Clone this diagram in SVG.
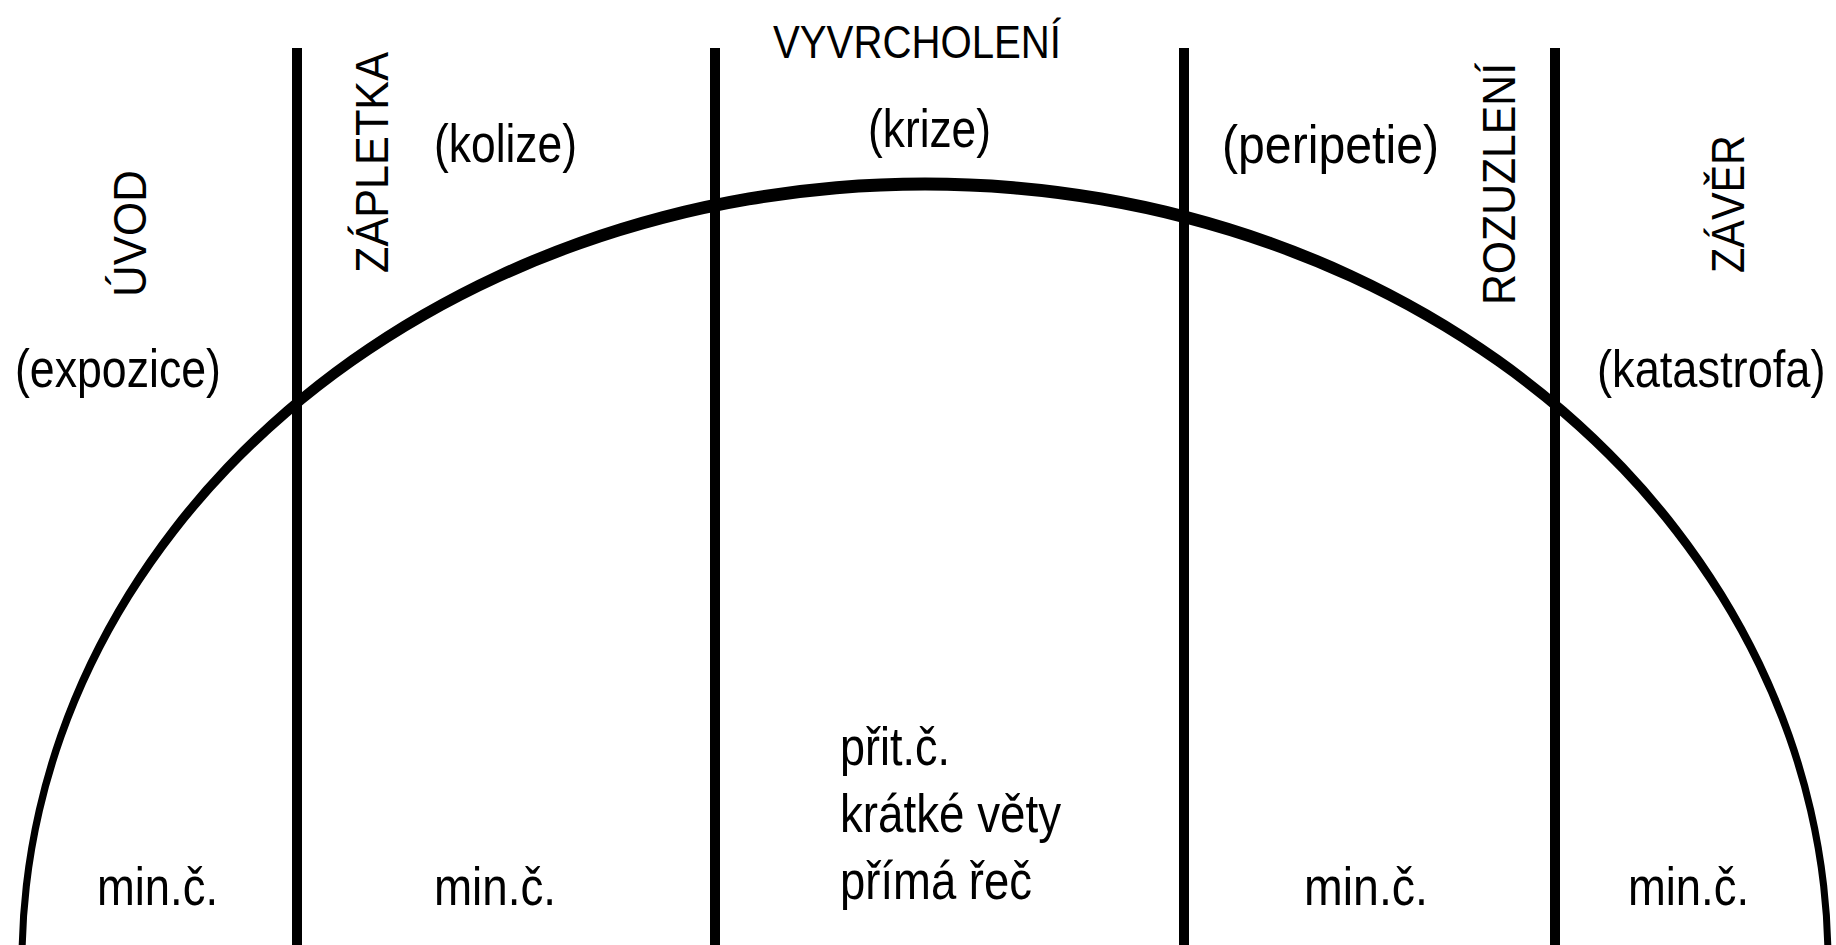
<svg xmlns="http://www.w3.org/2000/svg" width="1836" height="945" viewBox="0 0 1836 945">
<style>
text{font-family:"Liberation Sans",Arial,sans-serif;fill:#000}
.lc{font-size:53px}
.cap{font-size:46px}
.div{stroke:#000;stroke-width:10;fill:none}
</style>
<rect width="1836" height="945" fill="#fff"/>
<g id="curve">
<path fill="#000" fill-rule="evenodd" d="M18.5,962 A906.5,784.5 0 0 1 1831.5,962 Z M25.5,962 A899.5,771.5 0 0 1 1824.5,962 Z"/>
</g>
<g id="connectors">
<line class="div" x1="297" y1="48" x2="297" y2="945"/>
<line class="div" x1="715" y1="48" x2="715" y2="945"/>
<line class="div" x1="1184" y1="48" x2="1184" y2="945"/>
<line class="div" x1="1555" y1="48" x2="1555" y2="945"/>
</g>
<g id="uvod">
<text class="cap" transform="translate(146,297) rotate(-90)" textLength="127" lengthAdjust="spacingAndGlyphs">ÚVOD</text>
<text class="lc" x="15" y="387" textLength="206" lengthAdjust="spacingAndGlyphs">(expozice)</text>
<text class="lc" x="97" y="905" textLength="121" lengthAdjust="spacingAndGlyphs">min.č.</text>
</g>
<g id="zapletka">
<text class="cap" transform="translate(388,273) rotate(-90)" textLength="221" lengthAdjust="spacingAndGlyphs">ZÁPLETKA</text>
<text class="lc" x="434" y="162" textLength="143" lengthAdjust="spacingAndGlyphs">(kolize)</text>
<text class="lc" x="434" y="905" textLength="122" lengthAdjust="spacingAndGlyphs">min.č.</text>
</g>
<g id="vyvrcholeni">
<text class="cap" x="773" y="58" textLength="288" lengthAdjust="spacingAndGlyphs">VYVRCHOLENÍ</text>
<text class="lc" x="868" y="147" textLength="123" lengthAdjust="spacingAndGlyphs">(krize)</text>
<text class="lc" x="840" y="765" textLength="110" lengthAdjust="spacingAndGlyphs">přit.č.</text>
<text class="lc" x="840" y="832" textLength="221" lengthAdjust="spacingAndGlyphs">krátké věty</text>
<text class="lc" x="840" y="899" textLength="192" lengthAdjust="spacingAndGlyphs">přímá řeč</text>
</g>
<g id="peripetie">
<text class="lc" x="1222" y="163" textLength="217" lengthAdjust="spacingAndGlyphs">(peripetie)</text>
<text class="lc" x="1304" y="905" textLength="124" lengthAdjust="spacingAndGlyphs">min.č.</text>
</g>
<g id="rozuzleni">
<text class="cap" transform="translate(1515,305) rotate(-90)" textLength="242" lengthAdjust="spacingAndGlyphs">ROZUZLENÍ</text>
</g>
<g id="zaver">
<text class="cap" transform="translate(1744,273) rotate(-90)" textLength="138" lengthAdjust="spacingAndGlyphs">ZÁVĚR</text>
<text transform="translate(1597,387) scale(1,1.16)" font-size="45.2">(katastrofa)</text>
<text class="lc" x="1628" y="905" textLength="121" lengthAdjust="spacingAndGlyphs">min.č.</text>
</g>
</svg>
